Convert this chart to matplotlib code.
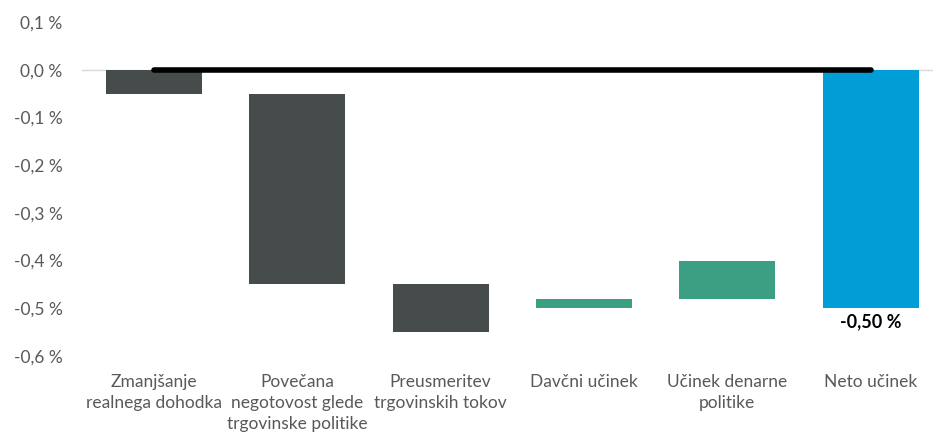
import matplotlib
matplotlib.use("Agg")
import matplotlib.pyplot as plt
from matplotlib.ticker import FuncFormatter

plt.rcParams['font.family'] = ['Lato', 'DejaVu Sans']

categories = ["Zmanjšanje\nrealnega dohodka", "Povečana\nnegotovost glede\ntrgovinske politike",
              "Preusmeritev\ntrgovinskih tokov", "Davčni učinek", "Učinek denarne\npolitike", "Neto učinek"]
bar_top = [0.0, -0.05, -0.45, -0.48, -0.40, 0.0]
bar_bottom = [-0.05, -0.45, -0.55, -0.50, -0.48, -0.50]
bar_colors = ["#464c4b", "#464c4b", "#464c4b", "#3ba083", "#3ba083", "#009dd6"]
net_label = "-0,50 %"
yticks = [0.1, 0.0, -0.1, -0.2, -0.3, -0.4, -0.5, -0.6]

fig = plt.figure(figsize=(9.33, 4.32), dpi=100)
ax = fig.add_axes([0.088, 0.176, 0.922, 0.773])

x = list(range(len(categories)))
heights = [t - b for t, b in zip(bar_top, bar_bottom)]
ax.bar(x, heights, bottom=bar_bottom, width=0.67, color=bar_colors, zorder=2)
ax.plot([x[0], x[-1]], [0, 0], color="black", lw=4, solid_capstyle="round", zorder=3)
ax.axhline(0, color="#d9d9d9", lw=1, zorder=1)

ax.text(x[-1], bar_bottom[-1] - 0.010, net_label, ha="center", va="top",
        fontsize=13, fontweight="bold", color="black")

ax.set_xlim(-0.5, 5.5)
ax.set_ylim(-0.6, 0.1)
ax.set_yticks(yticks)
ax.yaxis.set_major_formatter(FuncFormatter(lambda v, p: f"{v:.1f} %".replace(".", ",")))
ax.set_xticks(x)
ax.set_xticklabels(categories, fontsize=12.5, color="#595959", linespacing=1.4)
for lab in ax.get_yticklabels():
    lab.set_fontsize(12.5)
    lab.set_color("#595959")
ax.tick_params(axis="both", length=0)
ax.tick_params(axis="x", pad=13)
ax.tick_params(axis="y", pad=14)
for s in ax.spines.values():
    s.set_visible(False)

fig.savefig("out.png", dpi=100)
